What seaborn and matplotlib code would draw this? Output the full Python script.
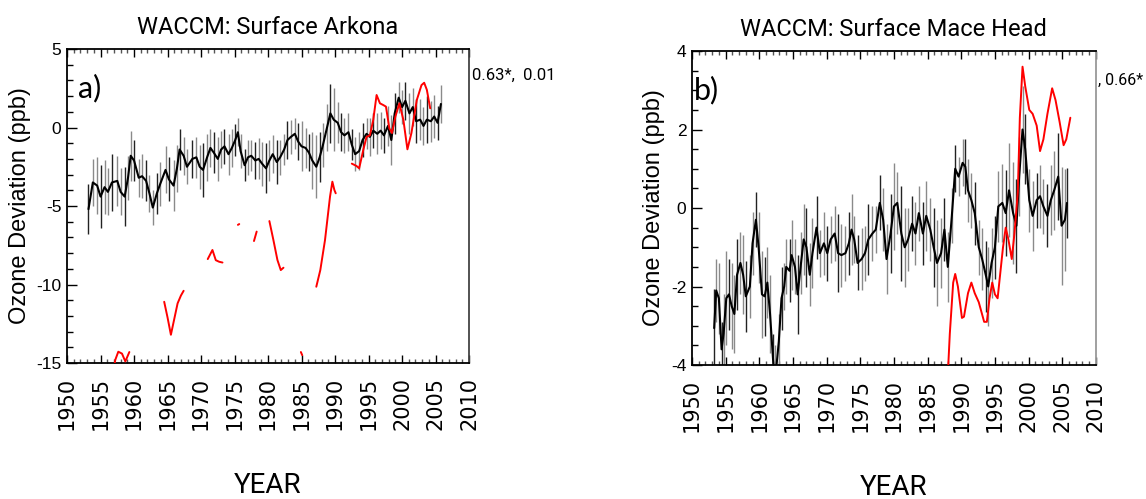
import numpy as np
import pandas as pd
import matplotlib
matplotlib.use("Agg")
import matplotlib.pyplot as plt
import seaborn as sns
from matplotlib.ticker import MultipleLocator

# ---------------- data ----------------
# Panel a) Arkona: observed deviations (black) with error bars
arkona_years = [1953.2, 1953.85, 1954.5, 1955.0, 1955.6, 1956.1, 1956.7, 1957.5, 1958.0, 1958.6,
                1959.1, 1959.5, 1960.0, 1960.7, 1961.2, 1961.8, 1962.3, 1962.8, 1963.4, 1963.9,
                1964.7, 1965.2, 1965.9, 1966.4, 1966.8, 1967.4, 1967.9, 1968.7, 1969.3, 1969.8,
                1970.3, 1970.9, 1971.4, 1971.9, 1972.5, 1973.0, 1973.5, 1974.1, 1974.6, 1975.1,
                1975.5, 1975.9, 1976.5, 1977.0, 1977.5, 1978.1, 1978.6, 1979.1, 1979.7, 1980.2,
                1980.7, 1981.3, 1981.8, 1982.4, 1982.9, 1983.4, 1984.0, 1984.5, 1985.0, 1985.6,
                1986.1, 1986.6, 1987.2, 1987.7, 1988.2, 1988.8, 1989.3, 1989.8, 1990.4, 1990.9,
                1991.4, 1992.0, 1992.5, 1993.0, 1993.6, 1994.1, 1994.7, 1995.2, 1995.7, 1996.3,
                1996.8, 1997.3, 1997.9, 1998.4, 1998.9, 1999.5, 2000.0, 2000.5, 2001.1, 2001.6,
                2002.1, 2002.7, 2003.2, 2003.7, 2004.3, 2004.8, 2005.3, 2005.8]
arkona_vals = [-5.2, -3.5, -3.7, -4.4, -3.8, -4.1, -3.5, -3.4, -4.1, -4.4,
               -3.2, -1.8, -2.1, -3.2, -3.1, -3.4, -4.2, -5.1, -4.2, -3.6,
               -2.7, -3.3, -3.7, -2.6, -1.4, -1.8, -2.5, -2.0, -1.9, -2.5,
               -2.7, -1.9, -1.3, -1.6, -2.0, -1.4, -1.2, -1.7, -1.3, -0.8,
               -0.3, -1.5, -2.4, -1.9, -1.8, -2.1, -2.0, -2.3, -2.6, -2.1,
               -1.7, -2.2, -1.9, -1.4, -0.8, -0.6, -0.4, -0.9, -1.2, -1.3,
               -1.6, -2.1, -2.5, -1.9, -1.1, 0.0, 0.9, 0.5, 0.3, -0.3,
               -0.5, -0.3, -1.1, -1.7, -1.5, -0.8, -0.4, -0.6, -0.2, -0.4,
               -0.2, -0.5, 0.1, -0.8, 0.9, 1.9, 1.3, 1.7, 0.9, 1.3,
               0.4, 0.5, 0.1, 0.5, 0.4, 0.7, 0.3, 1.5]
arkona_err = [1.6, 1.5, 1.8, 2.0, 1.7, 1.5, 1.8, 1.6, 1.5, 1.9,
              1.4, 1.6, 1.3, 1.2, 1.4, 1.3, 1.2, 1.1, 1.3, 1.4,
              1.5, 1.4, 1.6, 1.5, 1.3, 1.2, 1.1, 1.2, 1.3, 1.4,
              1.7, 1.5, 1.2, 1.3, 1.4, 1.2, 1.1, 1.3, 1.2, 1.0,
              0.9, 1.1, 1.0, 1.1, 1.0, 1.2, 1.3, 1.4, 1.6, 1.3,
              1.2, 1.4, 1.1, 1.0, 1.2, 1.1, 1.0, 1.2, 1.6, 1.3,
              1.2, 1.8, 2.0, 1.6, 1.4, 1.5, 1.9, 2.0, 1.3, 1.2,
              1.1, 1.2, 1.0, 1.1, 1.2, 1.1, 1.0, 1.2, 1.1, 1.3,
              1.2, 1.1, 1.3, 1.6, 1.3, 1.0, 1.1, 1.2, 1.3, 1.2,
              1.4, 1.3, 1.2, 1.5, 1.3, 1.4, 1.1, 1.2]

# Panel a) WACCM model (red), broken into segments
arkona_model_years = [1957.0, 1957.2, 1957.65, 1958.2, 1958.7, 1959.3,
                      1964.5, 1965.0, 1965.5, 1966.0, 1966.5, 1967.0, 1967.4,
                      1971.0, 1971.7, 1972.2, 1972.7, 1973.2,
                      1975.5, 1975.7,
                      1977.9, 1978.3,
                      1980.2, 1980.8, 1981.4, 1981.9, 1982.3,
                      1984.9, 1985.1,
                      1987.2, 1987.8, 1988.5, 1989.25, 1989.6, 1989.9, 1990.1,
                      1992.5, 1993.2, 1993.6, 1994.2, 1994.7, 1995.2, 1995.7, 1996.2, 1996.7, 1997.2,
                      1997.6, 1998.1, 1998.5, 1999.0, 1999.6, 2000.2, 2000.8, 2001.4, 2002.2, 2002.9,
                      2003.3, 2003.7, 2004.2]
arkona_model_vals = [-15.3, -14.8, -14.28, -14.4, -14.9, -14.3,
                     -11.1, -12.1, -13.2, -12.2, -11.2, -10.7, -10.4,
                     -8.38, -7.8, -8.45, -8.55, -8.6,
                     -6.2, -6.15,
                     -7.23, -6.63,
                     -5.96, -7.17, -8.44, -9.08, -8.93,
                     -14.3, -14.5,
                     -10.14, -9.08, -7.17, -4.4, -3.45, -3.98, -4.19,
                     -2.3, -2.45, -2.6, -1.45, -0.6, -0.5, 0.48, 2.07, 1.54, 1.43,
                     1.33, -0.05, -0.35, 0.69, 1.54, 0.48, -1.39, -0.35, 1.75, 2.7,
                     2.85, 2.4, 1.22]
arkona_model_seg = [1] * 6 + [2] * 7 + [3] * 5 + [4] * 2 + [5] * 2 + [6] * 5 + [7] * 2 + [8] * 7 + [9] * 23

# Panel b) Mace Head: observed deviations (black) with error bars
mace_years = [1953.3, 1953.6, 1954.0, 1954.4, 1954.7, 1955.1, 1955.5, 1955.9, 1956.3, 1956.7,
              1957.2, 1957.6, 1958.0, 1958.6, 1959.0, 1959.5, 1959.9, 1960.4, 1960.8, 1961.2,
              1961.6, 1962.1, 1962.4, 1962.9, 1963.3, 1963.7, 1964.0, 1964.5, 1964.8, 1965.3,
              1965.7, 1966.2, 1966.6, 1967.0, 1967.5, 1967.9, 1968.5, 1969.0, 1969.6, 1970.1,
              1970.6, 1971.2, 1971.7, 1972.2, 1972.8, 1973.3, 1973.7, 1974.1, 1974.6, 1975.2,
              1975.7, 1976.2, 1976.8, 1977.3, 1977.9, 1978.4, 1978.9, 1979.5, 1980.0, 1980.5,
              1981.1, 1981.6, 1982.1, 1982.7, 1983.2, 1983.7, 1984.3, 1984.8, 1985.4, 1985.9,
              1986.4, 1987.0, 1987.5, 1988.0, 1988.6, 1989.1, 1989.6, 1990.2, 1990.6, 1991.0,
              1991.5, 1992.0, 1992.6, 1993.1, 1993.7, 1994.0, 1994.5, 1995.0, 1995.5, 1996.1,
              1996.6, 1997.1, 1997.7, 1998.2, 1998.6, 1999.1, 1999.5, 2000.1, 2000.6, 2001.2,
              2001.7, 2002.2, 2002.8, 2003.3, 2003.8, 2004.4, 2004.9, 2005.4, 2005.7]
mace_vals = [-3.06, -2.1, -2.3, -3.6, -3.2, -2.3, -2.2, -2.5, -2.7, -1.7,
             -1.4, -1.7, -2.25, -2.0, -0.9, -0.3, -1.0, -2.2, -2.25, -1.9,
             -2.7, -4.0, -4.3, -3.4, -2.3, -2.0, -1.5, -1.6, -1.2, -1.5,
             -2.2, -1.4, -0.8, -1.0, -1.7, -1.15, -0.5, -1.15, -0.9, -1.15,
             -0.8, -0.65, -1.15, -1.2, -1.15, -0.9, -0.55, -0.8, -1.4, -1.3,
             -1.15, -0.8, -0.65, -0.55, 0.13, -0.3, -1.3, -0.65, 0.04, 0.13,
             -0.65, -1.0, -0.8, -0.4, -0.65, -0.13, -0.65, -0.2, -0.55, -1.0,
             -1.4, -1.15, -0.55, -1.5, -0.2, 1.0, 0.8, 1.15, 1.05, 0.45,
             0.2, -0.13, -1.0, -1.3, -1.75, -2.0, -1.4, -1.0, 0.04, 0.13,
             -0.13, 0.45, -0.13, -0.45, 0.8, 2.0, 1.5, 0.2, -0.2, 0.2,
             0.3, 0.04, -0.2, 0.2, 0.45, 0.8, -0.45, -0.3, 0.13]
mace_err = [1.0, 0.8, 0.9, 0.7, 1.0, 1.2, 0.9, 1.1, 1.0, 0.9,
            0.8, 1.0, 0.9, 0.8, 0.8, 0.7, 0.9, 1.1, 1.0, 0.9,
            1.0, 0.8, 0.8, 0.7, 0.8, 0.6, 0.7, 0.8, 0.9, 0.7,
            1.0, 0.8, 0.9, 1.0, 0.8, 0.9, 0.8, 0.6, 0.8, 0.7,
            0.6, 0.7, 1.0, 0.8, 0.7, 0.8, 0.9, 0.6, 0.7, 0.8,
            0.7, 0.9, 0.7, 0.6, 0.7, 0.8, 0.9, 1.0, 1.1, 0.8,
            1.2, 1.0, 0.8, 0.7, 0.8, 0.7, 0.8, 0.9, 0.8, 1.0,
            1.1, 0.9, 0.8, 0.9, 0.7, 0.6, 0.5, 0.6, 0.7, 0.8,
            0.7, 0.8, 0.7, 0.8, 0.9, 1.0, 0.9, 0.8, 0.9, 1.0,
            1.1, 1.2, 1.3, 1.2, 1.0, 1.1, 0.9, 0.8, 0.9, 0.7,
            0.8, 0.7, 0.8, 0.9, 1.0, 1.1, 1.5, 1.3, 0.9]

# Panel b) WACCM model (red)
mace_model_years = [1987.9, 1988.3, 1988.8, 1989.1, 1989.5, 1990.1, 1990.4, 1991.0, 1991.5, 1992.0,
                    1992.6, 1993.4, 1993.8, 1994.2, 1994.6, 1995.0, 1995.4, 1995.8, 1996.2, 1996.6,
                    1997.0, 1997.5, 1997.9, 1998.4, 1998.7, 1999.1, 1999.5, 2000.1, 2000.6, 2001.2,
                    2001.7, 2002.2, 2002.8, 2003.5, 2004.0, 2004.6, 2005.2, 2005.6, 2006.2]
mace_model_vals = [-4.6, -3.2, -1.9, -1.68, -2.0, -2.8, -2.77, -2.17, -1.9, -2.17,
                   -2.4, -2.9, -2.9, -2.3, -1.9, -2.2, -2.3, -1.65, -1.0, -0.5,
                   -0.8, -1.3, -0.65, 0.4, 2.3, 3.6, 3.1, 2.5, 2.4, 2.1,
                   1.45, 1.75, 2.4, 3.05, 2.75, 2.2, 1.6, 1.75, 2.3]

titles = ["WACCM: Surface Arkona", "WACCM: Surface Mace Head"]
panel_tags = ["a)", "b)"]
corr_texts = ["0.63*,  0.01", ", 0.66*"]

# ---------------- style ----------------
sns.set_theme(style="white")
plt.rcParams["font.family"] = ["Liberation Sans", "DejaVu Sans"]
plt.rcParams["axes.unicode_minus"] = False
for key in ["text.color", "axes.labelcolor", "xtick.color", "ytick.color"]:
    plt.rcParams[key] = "black"

NARROW = ["Roboto", "Liberation Sans", "DejaVu Sans"]

fig = plt.figure(figsize=(11.46, 4.99), dpi=100)
axL = fig.add_axes([0.0585, 0.2725, 0.3508, 0.6293])
axR = fig.add_axes([0.6038, 0.2685, 0.3525, 0.6293])


def draw_obs(ax, yrs, vals, errs):
    yrs = np.asarray(yrs)
    vals = np.asarray(vals)
    errs = np.asarray(errs)
    cols = ["#222222" if i % 3 == 0 else "#8a8a8a" for i in range(len(yrs))]
    ax.vlines(yrs, vals - errs, vals + errs, colors=cols, lw=1.0, zorder=2)
    sns.lineplot(x=yrs, y=vals, ax=ax, color="black", lw=1.5, estimator=None,
                 sort=False, zorder=3)


def style_axes(ax, ylim, ymaj, ymin, right_col):
    ax.set_xlim(1950, 2010)
    ax.set_ylim(*ylim)
    ax.xaxis.set_major_locator(MultipleLocator(5))
    ax.xaxis.set_minor_locator(MultipleLocator(1))
    ax.yaxis.set_major_locator(MultipleLocator(ymaj))
    ax.yaxis.set_minor_locator(MultipleLocator(ymin))
    ax.tick_params(axis="x", which="both", direction="in", top=True, bottom=True,
                   colors="black", width=1.0)
    ax.tick_params(axis="x", which="major", length=6, pad=10, labelrotation=90,
                   labelsize=15)
    ax.tick_params(axis="x", which="minor", length=3, color="#555555")
    ax.tick_params(axis="y", which="both", direction="in", left=True, right=False,
                   width=1.0, colors="black")
    ax.tick_params(axis="y", which="major", length=7, pad=4, labelsize=12.5)
    ax.tick_params(axis="y", which="minor", length=4)
    for lbl in ax.get_xticklabels():
        lbl.set_fontfamily("DejaVu Sans")
    for s in ["left", "bottom", "top"]:
        ax.spines[s].set_color("black")
        ax.spines[s].set_linewidth(1.3)
    ax.spines["right"].set_color(right_col)
    ax.spines["right"].set_linewidth(1.3)
    ax.set_xlabel("YEAR", fontsize=20, family=NARROW, labelpad=30)
    ax.set_ylabel("Ozone Deviation (ppb)", fontsize=17, labelpad=4)


# Panel a
draw_obs(axL, arkona_years, arkona_vals, arkona_err)
sns.lineplot(x=arkona_model_years, y=arkona_model_vals, units=arkona_model_seg,
             estimator=None, sort=False, ax=axL, color="red", lw=1.4, zorder=4)
style_axes(axL, (-15, 5), 5, 1, "#444444")

# Panel b
draw_obs(axR, mace_years, mace_vals, mace_err)
sns.lineplot(x=mace_model_years, y=mace_model_vals, estimator=None, sort=False,
             ax=axR, color="red", lw=1.4, zorder=4)
style_axes(axR, (-4, 4), 2, 0.5, "#999999")

for ax, t in zip([axL, axR], titles):
    ax.set_title(t, fontsize=17, family=NARROW, pad=11, color="black")

axL.text(0.027, 0.877, panel_tags[0], transform=axL.transAxes, fontsize=22,
         family=["Lato", "DejaVu Sans"], va="center", ha="left")
axR.text(0.005, 0.876, panel_tags[1], transform=axR.transAxes, fontsize=22,
         family=["Lato", "DejaVu Sans"], va="center", ha="left")

fig.text(472 / 1146, 1 - 75 / 499, corr_texts[0], fontsize=12, family=NARROW,
         va="center", ha="left")
fig.text(1098 / 1146, 1 - 80 / 499, corr_texts[1], fontsize=11.5, family=NARROW,
         va="center", ha="left")

fig.savefig("out.png", dpi=100)
